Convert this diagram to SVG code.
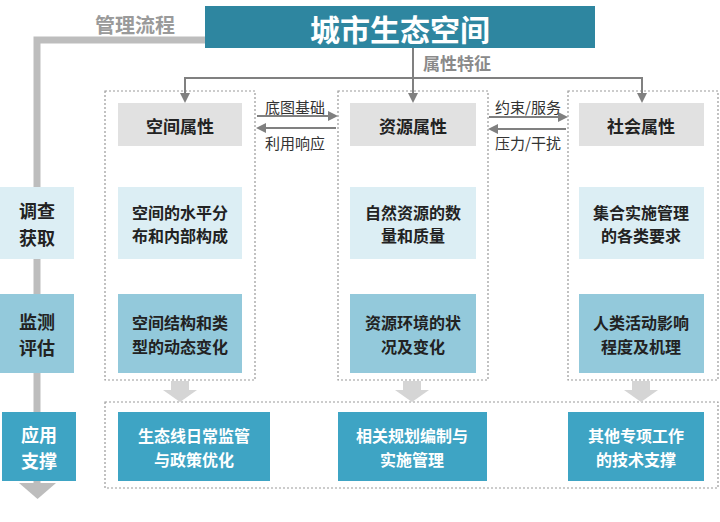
<svg xmlns="http://www.w3.org/2000/svg" width="720" height="522" viewBox="0 0 720 522">
<style>
text{font-family:"Noto Sans CJK SC","Noto Sans",sans-serif;text-anchor:middle;dominant-baseline:central}
.hd{fill:#e1e1e1}.r1{fill:#dceef4}.r2{fill:#93c9db}.r3{fill:#3ea4c4}
.h{font-size:17px;font-weight:bold;fill:#222}
.t{font-size:16px;font-weight:bold;fill:#222}
.tw{font-size:16px;font-weight:bold;fill:#fff}
.lc{font-size:18px;font-weight:bold;fill:#222}
.lab{font-size:15px;fill:#333}
.dash{fill:none;stroke:#999;stroke-width:1.2;stroke-dasharray:2 2}
.con{fill:none;stroke:#808080;stroke-width:2}
</style>
<defs>
<marker id="ah" viewBox="0 0 10 10" refX="8" refY="5" markerWidth="5" markerHeight="5" orient="auto"><path d="M0,0L10,5L0,10z" fill="#808080"/></marker>
</defs>
<rect width="720" height="522" fill="#fff"/>
<g id="frames">
<rect class="dash" x="105" y="91" width="150" height="289"/>
<rect class="dash" x="338" y="91" width="150" height="289"/>
<rect class="dash" x="568" y="91" width="150" height="289"/>
<rect class="dash" x="105" y="402" width="613" height="86"/>
</g>
<g id="connectors">
<path d="M205,40H37V484" fill="none" stroke="#bdbdbd" stroke-width="7"/>
<path d="M19,483H56L37.5,499z" fill="#bdbdbd"/>
<path class="con" d="M413,48V101" marker-end="url(#ah)"/>
<path class="con" d="M185,78H642"/>
<path class="con" d="M185,77V101" marker-end="url(#ah)"/>
<path class="con" d="M642,77V101" marker-end="url(#ah)"/>
<path class="con" d="M257,116H336" marker-end="url(#ah)"/>
<path class="con" d="M336,128H258" marker-end="url(#ah)"/>
<path class="con" d="M489,117H566" marker-end="url(#ah)"/>
<path class="con" d="M566,129H490" marker-end="url(#ah)"/>
<path d="M171,381H189V390H197L180,402L163,390H171z" fill="#d5d5d5"/>
<path d="M403,381H421V390H429L412,402L395,390H403z" fill="#d5d5d5"/>
<path d="M632,381H650V390H658L641,402L624,390H632z" fill="#d5d5d5"/>
<text class="lab" x="295" y="106">底图基础</text>
<text class="lab" x="295" y="142">利用响应</text>
<text class="lab" x="528" y="106">约束/服务</text>
<text class="lab" x="528" y="142">压力/干扰</text>
<text x="457" y="62" style="font-size:17px;font-weight:bold;fill:#8a8a8a">属性特征</text>
<text x="135" y="24" style="font-size:20px;font-weight:bold;fill:#9a9a9a">管理流程</text>
</g>
<g id="title"><rect x="205" y="6" width="390" height="42" fill="#2e86a0"/><text x="400" y="28" style="font-size:30px;font-weight:bold;fill:#fff">城市生态空间</text></g>
<g id="survey"><rect class="r1" x="0" y="187" width="74" height="72"/><text class="lc"><tspan x="37" y="210">调查</tspan><tspan x="37" y="236.5">获取</tspan></text></g>
<g id="monitor"><rect class="r2" x="0" y="294" width="74" height="79"/><text class="lc"><tspan x="37" y="320.5">监测</tspan><tspan x="37" y="347">评估</tspan></text></g>
<g id="apply"><rect class="r3" x="2" y="412" width="74" height="69"/><text class="lc" style="fill:#fff"><tspan x="39" y="433.5">应用</tspan><tspan x="39" y="460">支撑</tspan></text></g>
<g id="space"><rect class="hd" x="118" y="103" width="124" height="43"/><text class="h" x="180" y="125">空间属性</text></g>
<g id="resource"><rect class="hd" x="350" y="103" width="126" height="43"/><text class="h" x="413" y="125">资源属性</text></g>
<g id="social"><rect class="hd" x="579" y="103" width="125" height="43"/><text class="h" x="641" y="125">社会属性</text></g>
<g id="s1"><rect class="r1" x="118" y="187" width="124" height="72"/><text class="t"><tspan x="180" y="211.5">空间的水平分</tspan><tspan x="180" y="235">布和内部构成</tspan></text></g>
<g id="r1"><rect class="r1" x="350" y="187" width="126" height="72"/><text class="t"><tspan x="413" y="211.5">自然资源的数</tspan><tspan x="413" y="235">量和质量</tspan></text></g>
<g id="c1"><rect class="r1" x="579" y="187" width="125" height="72"/><text class="t"><tspan x="641" y="211.5">集合实施管理</tspan><tspan x="641" y="235">的各类要求</tspan></text></g>
<g id="s2"><rect class="r2" x="118" y="294" width="124" height="79"/><text class="t"><tspan x="180" y="322">空间结构和类</tspan><tspan x="180" y="345.5">型的动态变化</tspan></text></g>
<g id="r2"><rect class="r2" x="350" y="294" width="126" height="79"/><text class="t"><tspan x="413" y="322">资源环境的状</tspan><tspan x="413" y="345.5">况及变化</tspan></text></g>
<g id="c2"><rect class="r2" x="579" y="294" width="125" height="79"/><text class="t"><tspan x="641" y="322">人类活动影响</tspan><tspan x="641" y="345.5">程度及机理</tspan></text></g>
<g id="a1"><rect class="r3" x="118" y="412" width="152" height="69"/><text class="tw"><tspan x="194" y="435">生态线日常监管</tspan><tspan x="194" y="458.5">与政策优化</tspan></text></g>
<g id="a2"><rect class="r3" x="338" y="412" width="149" height="69"/><text class="tw"><tspan x="412" y="435">相关规划编制与</tspan><tspan x="412" y="458.5">实施管理</tspan></text></g>
<g id="a3"><rect class="r3" x="568" y="412" width="136" height="69"/><text class="tw"><tspan x="636" y="435">其他专项工作</tspan><tspan x="636" y="458.5">的技术支撑</tspan></text></g>
</svg>
